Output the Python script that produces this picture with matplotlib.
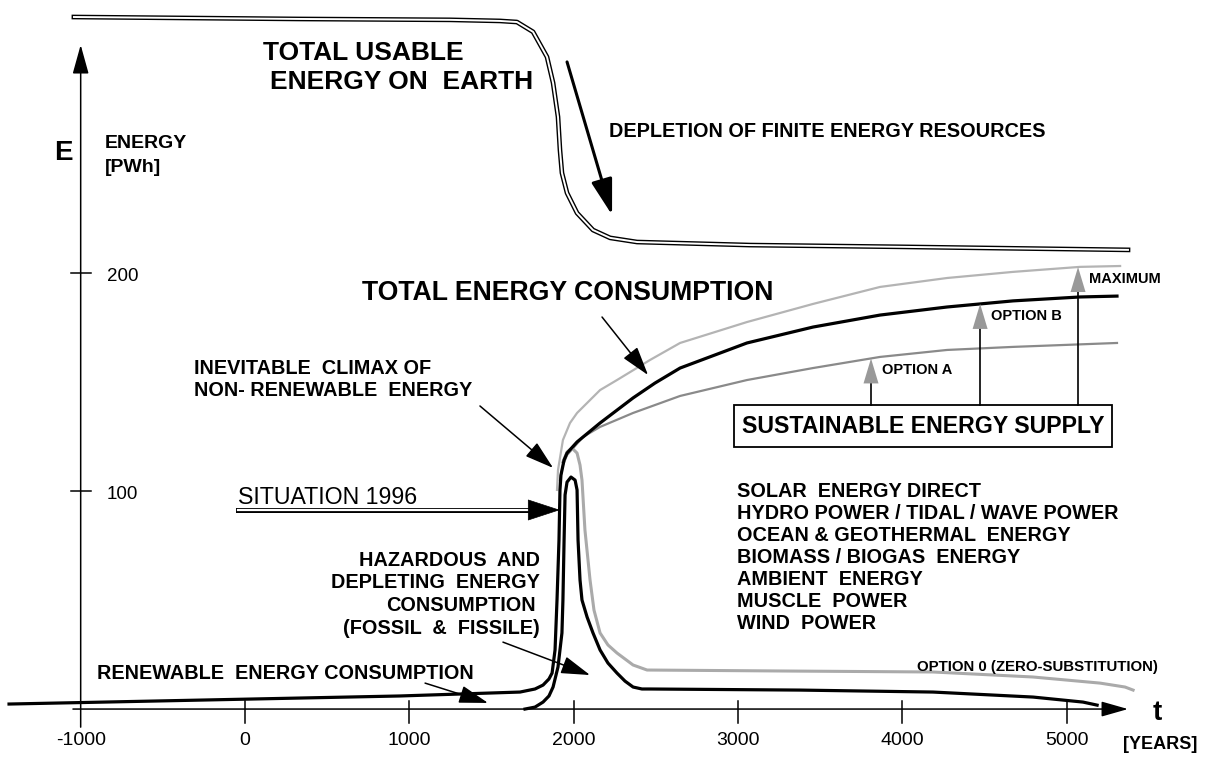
import numpy as np
import matplotlib
matplotlib.use("Agg")
import matplotlib.pyplot as plt
from matplotlib.patches import Rectangle

plt.rcParams["font.family"] = ["Liberation Sans", "DejaVu Sans"]

# ── curves: (year, PWh) ──────────────────────────────────────────────────────
usable_yr  = [-1041, 335, 1248, 1552, 1655, 1753, 1838, 1875, 1905, 1917,
              1929, 1960, 2021, 2118, 2222, 2386, 3074, 3987, 5374]
usable_pwh = [317.4, 316.5, 316.1, 315.6, 315.1, 310.6, 299.1, 287.2, 271.6,
              256.4, 245.9, 236.7, 227.5, 219.7, 216.1, 214.2, 212.8, 212.0, 210.6]

# renewable consumption running into total energy consumption
total_yr  = [-1436, 943, 1674, 1765, 1814, 1850, 1869, 1887, 1899, 1911, 1917,
             1923, 1942, 1960, 2021, 2161, 2362, 2495, 2648, 3055, 3457, 3865,
             4273, 4674, 5082, 5307]
total_pwh = [2.3, 6.0, 7.8, 9.2, 11.0, 13.8, 16.5, 27.1, 50.0, 77.5, 100.5,
             107.3, 114.2, 117.4, 122.5, 131.2, 142.7, 149.5, 156.4, 167.9,
             175.2, 180.7, 184.4, 187.2, 189.0, 189.4]

# hazardous and depleting (fossil & fissile) consumption
hazard_yr  = [1704, 1765, 1814, 1850, 1875, 1905, 1929, 1935, 1942, 1948, 1960,
              1984, 2009, 2021, 2027, 2039, 2051, 2082, 2118, 2161, 2209, 2264,
              2313, 2362, 2416, 2465, 3378, 4187, 4796, 5100, 5186]
hazard_pwh = [0.0, 0.9, 3.2, 6.0, 10.1, 19.3, 34.9, 50.0, 77.5, 98.2, 104.1,
              106.4, 105.0, 100.5, 77.5, 59.2, 50.0, 42.2, 34.9, 27.1, 21.1,
              16.5, 12.8, 10.1, 9.2, 9.2, 8.7, 7.8, 5.5, 3.2, 1.8]

# option 0 (zero substitution)
opt0_yr  = [1935, 1960, 1990, 2021, 2039, 2051, 2069, 2100, 2124, 2161, 2209,
            2264, 2362, 2447, 3378, 4187, 4796, 5204, 5356, 5405]
opt0_pwh = [113.3, 117.9, 119.7, 117.4, 111.9, 105.0, 82.1, 59.2, 45.4, 34.9,
            29.4, 25.7, 20.2, 17.9, 17.4, 17.0, 14.7, 11.9, 10.1, 8.7]

max_yr  = [1899, 1905, 1935, 1978, 2021, 2161, 2264, 2465, 2648, 3055, 3457,
           3865, 4273, 4674, 5082, 5326]
max_pwh = [100.5, 109.6, 123.4, 131.2, 135.8, 146.3, 150.9, 160.1, 167.9,
           177.5, 185.8, 193.6, 197.7, 200.5, 202.8, 203.2]

optA_yr  = [1917, 1935, 1960, 2057, 2161, 2362, 2648, 3055, 3457, 3865, 4273,
            4674, 5307]
optA_pwh = [105.0, 111.9, 116.5, 124.8, 129.4, 135.8, 143.6, 150.9, 156.4,
            161.5, 164.7, 166.1, 167.9]

x_ticks = [-1000, 0, 1000, 2000, 3000, 4000, 5000]
y_ticks = [100, 200]

option_labels = ["OPTION A", "OPTION B", "MAXIMUM"]
option_years  = [3810, 4474, 5070]

renewables = ["SOLAR  ENERGY DIRECT", "HYDRO POWER / TIDAL / WAVE POWER",
              "OCEAN & GEOTHERMAL  ENERGY", "BIOMASS / BIOGAS  ENERGY",
              "AMBIENT  ENERGY", "MUSCLE  POWER", "WIND  POWER"]

MID = 14.3   # size of the medium bold captions


def arrow(ax, start, end, lw=1.1, hl=18, hw=5.5, fc="black", ec="black"):
    ax.annotate("", xy=end, xytext=start,
                arrowprops=dict(arrowstyle=f"-|>,head_length={hl},head_width={hw}",
                                mutation_scale=1, lw=lw, facecolor=fc,
                                edgecolor=ec, shrinkA=0, shrinkB=0))


fig = plt.figure(figsize=(12.09, 7.64), dpi=100, facecolor="white")
ax = fig.add_axes([0, 0, 1, 1])
ax.set_xlim(-1491, 5867)
ax.set_ylim(-25.2, 325.2)
ax.axis("off")

# ── axes ─────────────────────────────────────────────────────────────────────
arrow(ax, (-1047, 0), (5374, 0), lw=1.1, hl=16.5, hw=4.7)
arrow(ax, (-1000, -8.3), (-1000, 304.6), lw=1.1, hl=18, hw=5)
for v in x_ticks[1:]:
    ax.plot([v, v], [3.7, -6.4], color="black", lw=1.1)
    ax.text(v, -14.2, str(v), ha="center", va="center", fontsize=14)
ax.text(-1000, -14.2, "-1000", ha="center", va="center", fontsize=14)
for v in y_ticks:
    ax.plot([-1061, -939], [v, v], color="black", lw=1.1)
    ax.text(-840, v - 1.5, str(v), ha="left", va="center", fontsize=13.5)
ax.text(5551, -1.8, "t", ha="center", va="center", fontsize=20, fontweight="bold")
ax.text(5569, -16.1, "[YEARS]", ha="center", va="center", fontsize=13, fontweight="bold")
ax.text(-1108, 255.0, "E", ha="center", va="center", fontsize=20, fontweight="bold")
ax.text(-852, 259.2, "ENERGY", ha="left", va="center", fontsize=14, fontweight="bold")
ax.text(-852, 248.6, "[PWh]", ha="left", va="center", fontsize=14, fontweight="bold")

# ── curves ───────────────────────────────────────────────────────────────────
ax.plot(usable_yr, usable_pwh, color="black", lw=3.4, solid_joinstyle="round")
ax.plot(usable_yr, usable_pwh, color="white", lw=1.4, solid_joinstyle="round")
ax.plot(max_yr, max_pwh, color="#b4b4b4", lw=1.6, solid_joinstyle="round")
ax.plot(optA_yr, optA_pwh, color="#8a8a8a", lw=1.6, solid_joinstyle="round")
ax.plot(opt0_yr, opt0_pwh, color="#aaaaaa", lw=2.2, solid_joinstyle="round")
ax.plot(total_yr, total_pwh, color="black", lw=2.3, solid_joinstyle="round")
ax.plot(hazard_yr, hazard_pwh, color="black", lw=2.3, solid_joinstyle="round")

# ── labels and pointers ──────────────────────────────────────────────────────
ax.text(110, 300.9, "TOTAL USABLE", ha="left", va="center", fontsize=19, fontweight="bold")
ax.text(152, 287.6, "ENERGY ON  EARTH", ha="left", va="center", fontsize=19, fontweight="bold")
ax.text(2215, 265.1, "DEPLETION OF FINITE ENERGY RESOURCES", ha="left", va="center",
        fontsize=MID, fontweight="bold")
arrow(ax, (1960, 296.8), (2234, 226.6), lw=2.2, hl=22, hw=6.5)

ax.text(712, 190.8, "TOTAL ENERGY CONSUMPTION", ha="left", va="center",
        fontsize=19.2, fontweight="bold")
arrow(ax, (2173, 179.8), (2453, 153.2))

ax.text(-310, 156.4, "INEVITABLE  CLIMAX OF", ha="left", va="center",
        fontsize=MID, fontweight="bold")
ax.text(-310, 146.3, "NON- RENEWABLE  ENERGY", ha="left", va="center",
        fontsize=MID, fontweight="bold")
arrow(ax, (1430, 139.0), (1875, 110.6))

ax.text(-43, 97.2, "SITUATION 1996", ha="left", va="center", fontsize=16.7)
ax.plot([-43, 1735], [91.3, 91.3], color="black", lw=3.6)
ax.plot([-43, 1735], [91.3, 91.3], color="white", lw=1.6)
arrow(ax, (1735, 91.3), (1917, 91.3), lw=0.5, hl=22, hw=7.2)

hazard_lines = ["HAZARDOUS  AND", "DEPLETING  ENERGY", "CONSUMPTION", "(FOSSIL  &  FISSILE)"]
for i, s in enumerate(hazard_lines):
    ax.text(1795 if i != 2 else 1771, 68.3 - i * 10.4, s, ha="right", va="center",
            fontsize=MID, fontweight="bold")
arrow(ax, (1570, 30.7), (2100, 15.6))

ax.text(-901, 16.1, "RENEWABLE  ENERGY CONSUMPTION", ha="left", va="center",
        fontsize=MID, fontweight="bold")
arrow(ax, (1096, 11.9), (1479, 2.8))

for i, s in enumerate(renewables):
    ax.text(2995, 100.0 - i * 10.1, s, ha="left", va="center", fontsize=MID,
            fontweight="bold")

ax.text(4090, 19.3, "OPTION 0 (ZERO-SUBSTITUTION)", ha="left", va="center",
        fontsize=10.8, fontweight="bold")

# ── sustainable supply box and option arrows ────────────────────────────────
box_x0, box_x1, box_y0, box_y1 = 2976, 5277, 120.2, 139.4
ax.add_patch(Rectangle((box_x0, box_y0), box_x1 - box_x0, box_y1 - box_y0,
                       fill=False, edgecolor="black", lw=1.3))
ax.text((box_x0 + box_x1) / 2, (box_y0 + box_y1) / 2, "SUSTAINABLE ENERGY SUPPLY",
        ha="center", va="center", fontsize=16.7, fontweight="bold")

option_curves = [(optA_yr, optA_pwh), (total_yr, total_pwh), (max_yr, max_pwh)]
head_len = 11.5
for lab, yr, (cx, cy) in zip(option_labels, option_years, option_curves):
    tip = np.interp(yr, cx, cy)
    ax.plot([yr, yr], [box_y1, tip - head_len], color="black", lw=1.2)
    arrow(ax, (yr, tip - head_len), (yr, tip), lw=0, hl=18, hw=5.4,
          fc="#999999", ec="#999999")
    ax.text(yr + 67, tip - 5.5, lab, ha="left", va="center", fontsize=10.5,
            fontweight="bold")

fig.savefig("out.png", dpi=100, facecolor="white")
